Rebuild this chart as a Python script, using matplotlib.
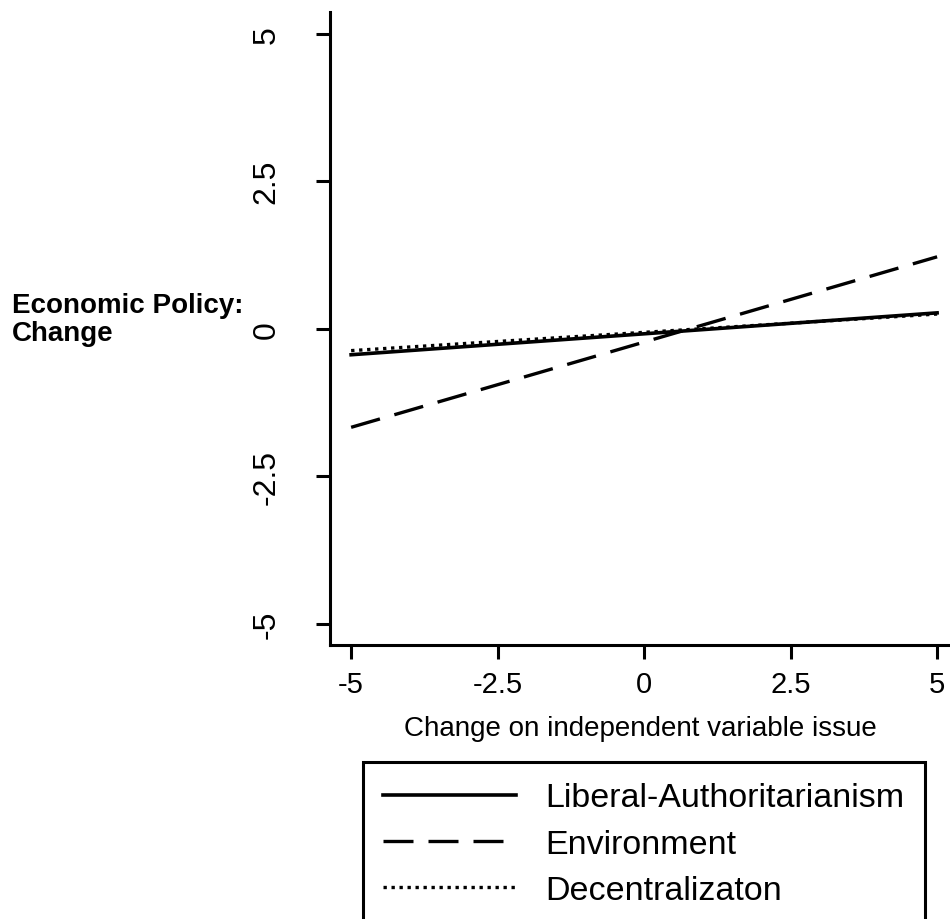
import matplotlib
matplotlib.use("Agg")
import matplotlib.pyplot as plt

plt.rcParams['font.family'] = ['Liberation Sans', 'DejaVu Sans']

# data: predicted change in economic policy for change on other issue
x_vals = [-5, 5]
liberal_auth = [-0.44, 0.27]
environment = [-1.67, 1.22]
decentral = [-0.37, 0.25]

labels = ['Liberal-Authoritarianism', 'Environment', 'Decentralizaton']
ticks = [-5, -2.5, 0, 2.5, 5]
tick_labels = ['-5', '-2.5', '0', '2.5', '5']

fig = plt.figure(figsize=(9.5, 9.2), dpi=100)
ax = fig.add_axes([0.3474, 0.2978, 0.6526, 0.6881])

ax.plot(x_vals, liberal_auth, color='black', lw=2.6, ls='-', label=labels[0])
ax.plot(x_vals, environment, color='black', lw=2.4, ls=(0, (9, 4.5)), label=labels[1])
ax.plot(x_vals, decentral, color='black', lw=2.4, ls=(0, (1, 1.4)), label=labels[2])

ax.set_xlim(-5.36, 5.22)
ax.set_ylim(-5.36, 5.37)
ax.set_xticks(ticks)
ax.set_xticklabels(tick_labels)
ax.set_yticks(ticks)
ax.set_yticklabels(tick_labels, rotation=90, va='center')

for s in ['top', 'right']:
    ax.spines[s].set_visible(False)
for s in ['left', 'bottom']:
    ax.spines[s].set_linewidth(2.2)

ax.tick_params(axis='x', length=10, width=2.2, pad=8, labelsize=21)
ax.tick_params(axis='y', length=10, width=2.2, pad=25, labelsize=23)

ax.set_xlabel('Change on independent variable issue', fontsize=20, labelpad=12)

fig.text(12 / 950, 1 - 320 / 920, 'Economic Policy:\nChange', ha='left', va='center',
         fontsize=20, fontweight='bold', linespacing=1.1)

leg = fig.legend(loc='upper left', bbox_to_anchor=(363 / 950, 1 - 763 / 920),
                 fontsize=24.5, frameon=True, fancybox=False, edgecolor='black',
                 framealpha=1, handlelength=3.9, handletextpad=0.85,
                 labelspacing=0.45, borderpad=0.6, borderaxespad=0)
leg.get_frame().set_linewidth(2.2)

fig.savefig('out.png', dpi=100)
